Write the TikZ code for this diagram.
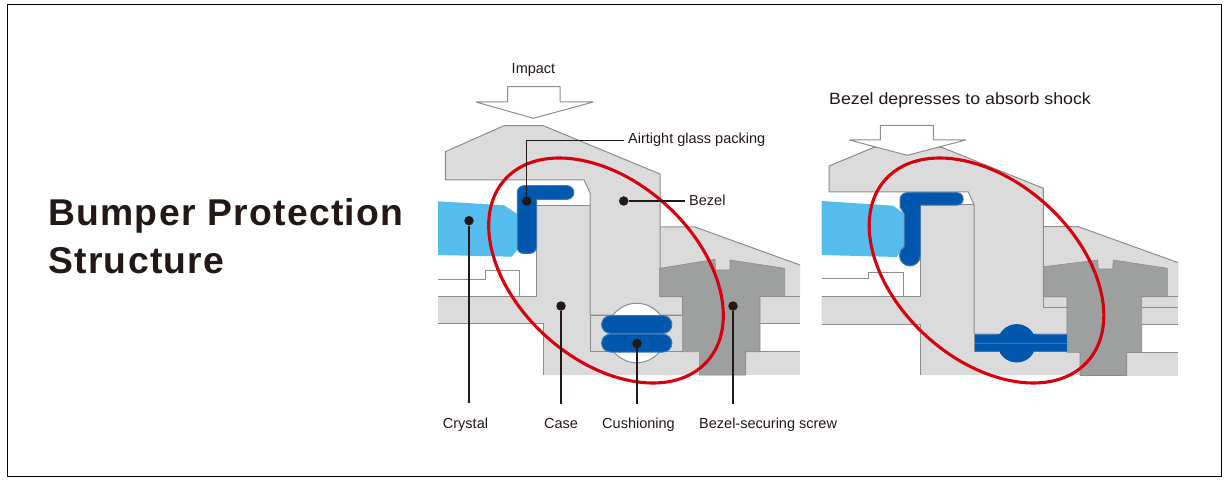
\documentclass[tikz,border=0pt]{standalone}
\usepackage{fontspec}
\setmainfont{Liberation Sans}
\newfontfamily\titlefont[LetterSpace=3.5]{Liberation Sans}
\newfontfamily\widefont[FakeStretch=1.09]{Liberation Sans}
\definecolor{lg}{HTML}{DBDBDB}
\definecolor{ln}{HTML}{8C8D8E}
\definecolor{dg}{HTML}{9E9F9F}
\definecolor{bl}{HTML}{0057AE}
\definecolor{ble}{HTML}{3F76B4}
\definecolor{cy}{HTML}{55BDEE}
\definecolor{rd}{HTML}{D7000F}
\definecolor{ink}{HTML}{231815}
\tikzset{
  part/.style={fill=lg,draw=ln,line width=1pt,line join=bevel},
  plain/.style={fill=lg,draw=none},
  edge/.style={draw=ln,line width=1pt},
  screw/.style={fill=dg,draw=ln,line width=.6pt},
  pack/.style={fill=bl,draw=ble,line width=1pt},
  glass/.style={fill=cy,draw=none},
  shockarrow/.style={fill=white,draw=ln,line width=1pt,line join=bevel},
  ring/.style={draw=rd,line width=3.1pt},
  dot/.style={circle,fill=ink,draw=none,minimum size=9.5pt,inner sep=0pt},
  lead/.style={draw=ink,line width=1.1pt},
  lab/.style={text=ink,font=\fontsize{14.5}{16}\selectfont,inner sep=4pt,text height=10.5pt,text depth=3pt},
}
\begin{document}
\begin{tikzpicture}[x=1pt,y=-1pt]
\useasboundingbox (0,0) rectangle (1226,481);
\fill[white] (0,0) rectangle (1226,481);
\draw[black,line width=1pt] (7.5,4.5) rectangle (1221,476.5);

% ---------- left diagram
\fill[glass] (438,201.3) -- (504,205.3) -- (517.3,214) -- (517.3,250) -- (511.7,256.7) -- (438,255) -- cycle;
\draw[edge] (438,279.3) -- (485.3,279.3) -- (485.3,270.3) -- (519.3,270.3) -- (519.3,296);
% rim
\path[plain] (660,227) -- (695,227) -- (800,265) -- (800,297) -- (660,297) -- cycle;
\draw[edge] (660,227) -- (695,227) -- (800,265);
% right lower parts
\path[plain] (760,296.5) rectangle (800,323.3);
\draw[edge] (800,296.5) -- (760,296.5) (760,323.3) -- (800,323.3);
\path[plain] (745.7,351.7) rectangle (800,375);
\draw[edge] (800,351.7) -- (745.7,351.7) -- (745.7,375);
% case
\path[plain] (536.7,205.3) -- (590,205.3) -- (590,351.7) -- (699.3,351.7) -- (699.3,375) -- (543.3,375) -- (543.3,323.3) -- (438,323.3) -- (438,296) -- (536.7,296) -- cycle;
\draw[edge] (590,205.3) -- (536.7,205.3) -- (536.7,296) -- (438,296);
\draw[edge] (438,323.3) -- (543.3,323.3) -- (543.3,375);
% notch
\draw[edge,fill=white] (636.7,333) circle[radius=29.7pt];
% channel
\path[plain] (590,315) rectangle (682.7,351.7);
\draw[edge] (590,315) -- (590,351.7) -- (682.7,351.7);
% bezel
\path[part] (504,125.7) -- (543.3,125.7) -- (660,174) -- (660,296.5) -- (682.7,296.5) -- (682.7,315) -- (590,315) -- (590,192.7) -- (584,180) -- (445.3,180) -- (445.3,151.7) -- cycle;
\begin{scope}
  \clip (590,290) rectangle (690,315);
  \draw[edge,fill=white] (636.7,333) circle[radius=29.7pt];
\end{scope}
\draw[edge] (590,315) -- (682.7,315);
% screw
\path[screw] (659.7,268.3) -- (715,259.3) -- (715.5,270) -- (730,270) -- (730,260) -- (784.7,268.3) -- (784.7,296.5) -- (760,296.5) -- (760,351.7) -- (745.7,351.7) -- (745.7,375) -- (699.3,375) -- (699.3,351.7) -- (682.7,351.7) -- (682.7,296.5) -- (659.7,296.5) -- cycle;
% cushions
\path[pack] (610.5,315.6) -- (663,315.6) arc[start angle=90,end angle=-90,radius=8.9pt] -- (610.5,333.4) arc[start angle=270,end angle=90,radius=8.9pt] -- cycle;
\path[pack] (610.5,334.2) -- (663,334.2) arc[start angle=90,end angle=-90,radius=8.9pt] -- (610.5,352) arc[start angle=270,end angle=90,radius=8.9pt] -- cycle;
% L packing
\path[pack] (524,185.7) -- (567,185.7) arc[start angle=90,end angle=-90,radius=6.8pt] -- (536.5,199.3) -- (536.5,247) arc[start angle=0,end angle=-90,radius=6.3pt] -- (523,253.3) arc[start angle=270,end angle=180,radius=5.7pt] -- (517.3,192.4) arc[start angle=180,end angle=90,radius=6.7pt] -- cycle;
% ring
\draw[ring,shift={(606,270.5)},rotate=-42] (0,0) ellipse[x radius=136pt,y radius=89pt];
% arrow
\path[shockarrow] (507.7,86.7) -- (560,86.7) -- (560,102) -- (593.3,102) -- (533.3,118.3) -- (476,102) -- (507.7,102) -- cycle;

% dots, leaders, labels
\node[dot] (dCrystal) at (469,220.7) {};
\node[dot] (dPack) at (526.7,201) {};
\node[dot] (dBezel) at (623.7,201) {};
\node[dot] (dCase) at (561,306) {};
\node[dot] (dCush) at (637,343.5) {};
\node[dot] (dScrew) at (733,306) {};
\node[lab] (lImpact) at (533.5,69.6) {Impact};
\node[lab,anchor=west] (lPack) at (624,140.2) {Airtight glass packing};
\node[lab,anchor=west] (lBezel) at (685,202) {Bezel};
\node[lab] (lCrystal) at (465.5,424.6) {Crystal};
\node[lab] (lCase) at (561,424.6) {Case};
\node[lab] (lCush) at (638.5,424.6) {Cushioning};
\node[lab,anchor=west] (lScrew) at (695,424.6) {Bezel-securing screw};
\coordinate (eCrystal) at (469,403);
\coordinate (eCase) at (561,404);
\coordinate (eCush) at (637,404);
\coordinate (eScrew) at (733,404);
\draw[lead] (dCrystal) -- (eCrystal);
\draw[lead] (dCase) -- (eCase);
\draw[lead] (dCush) -- (eCush);
\draw[lead] (dScrew) -- (eScrew);
\draw[lead] (dPack) |- (lPack.west);
\draw[lead] (dBezel) -- (dBezel -| lBezel.west);

% ---------- right diagram
\fill[glass] (821.7,201) -- (893.3,205.7) -- (904.3,214) -- (904.3,246.7) -- (896.7,257) -- (821.7,255) -- cycle;
\draw[edge] (821.7,278.3) -- (868.3,278.3) -- (868.3,272.3) -- (903.3,272.3) -- (903.3,296);
\path[plain] (1043.3,226.7) -- (1078.3,226.7) -- (1178.3,262.7) -- (1178.3,297) -- (1043.3,297) -- cycle;
\draw[edge] (1043.3,226.7) -- (1078.3,226.7) -- (1178.3,262.7);
\path[plain] (1141.7,296.7) rectangle (1178.3,324.3);
\draw[edge] (1178.3,296.7) -- (1141.7,296.7) (1141.7,307.3) -- (1178.3,307.3) (1141.7,324.3) -- (1178.3,324.3);
\path[plain] (1126.7,352.3) rectangle (1178.3,375.5);
\draw[edge] (1178.3,352.3) -- (1126.7,352.3) -- (1126.7,375.5);
% case
\path[plain] (920.3,205) -- (974,205) -- (974,352) -- (1080,352) -- (1080,375) -- (920.3,375) -- (920.3,324) -- (821.7,324) -- (821.7,296) -- (920.3,296) -- cycle;
\draw[edge] (974,205) -- (920.3,205) -- (920.3,296) -- (821.7,296);
\draw[edge] (821.7,324) -- (920.3,324) -- (920.3,375);
% bezel
\path[part] (874,147.3) -- (941.7,147.3) -- (1043.3,188.3) -- (1043.3,296.7) -- (1067.3,296.7) -- (1067.3,334) -- (974,334) -- (974,205) -- (968.3,192) -- (829,192) -- (829,166) -- cycle;
\draw[edge] (1043.3,296.7) -- (1043.3,307.3) -- (1067.3,307.3);
% screw
\path[screw] (1043.8,266.7) -- (1097.7,260) -- (1098.3,269) -- (1112.7,269) -- (1113.3,260) -- (1167.3,268.3) -- (1167.3,296.7) -- (1141.7,296.7) -- (1141.7,352.3) -- (1126.7,352.3) -- (1126.7,375.5) -- (1080,375.5) -- (1080,352.3) -- (1067,352.3) -- (1067,296.7) -- (1043.8,296.7) -- cycle;
% cushion compressed
\path[fill=bl,draw=none] (974,334) rectangle (1067,351.7);
\fill[bl] (1016.7,343.3) circle[radius=19.2pt];
\draw[ble,line width=1pt] (974,343.5) -- (1067,343.5);
\draw[ble,line width=.8pt] (974,334) -- (998,334) (1035.5,334) -- (1067,334) (974,351.7) -- (1000,351.7) (1033,351.7) -- (1067,351.7);
\draw[edge] (974,334) -- (974,352);
% L packing
\path[pack] (907,192.7) -- (957,192.7) arc[start angle=90,end angle=-90,radius=6.2pt] -- (920.3,205.1) -- (920.3,255.5) arc[start angle=0,end angle=-237,radius=10.4pt] -- (904.3,214) -- (900,207) -- (900,199.7) arc[start angle=180,end angle=90,radius=7pt] -- cycle;
% ring
\draw[ring,shift={(986.5,270.5)},rotate=-42] (0,0) ellipse[x radius=136pt,y radius=89pt];
% arrow
\path[shockarrow] (880.3,125.3) -- (933.3,125.3) -- (933.3,140) -- (965.7,140) -- (907.3,155.3) -- (849.3,140) -- (880.3,140) -- cycle;
\node[text=ink,font=\widefont\fontsize{16.3}{18}\selectfont,inner sep=0pt,anchor=west] (lDep) at (829,100) {Bezel depresses to absorb shock};

% ---------- title
\node[text=ink,font=\titlefont\bfseries\fontsize{37.3}{48}\selectfont,anchor=west,align=left,inner sep=0pt] (title) at (48,236) {Bumper Protection\\Structure};
\end{tikzpicture}
\end{document}
